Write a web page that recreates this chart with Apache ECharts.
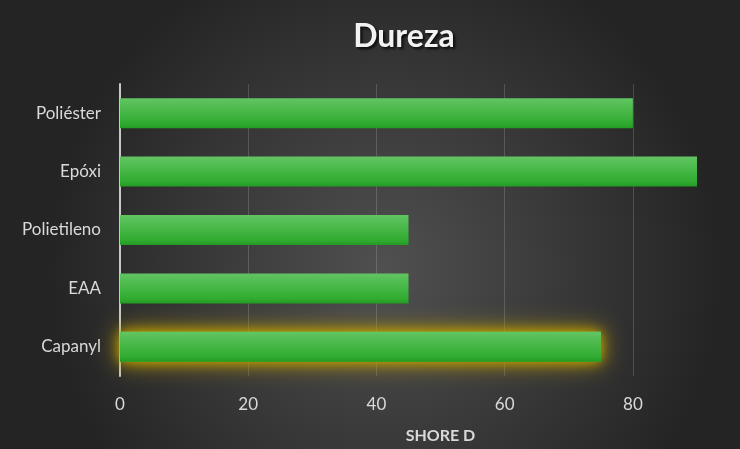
<!DOCTYPE html>
<html>
<head>
<meta charset="utf-8">
<script src="https://cdn.jsdelivr.net/npm/echarts@6/dist/echarts.min.js"></script>
<style>html,body{margin:0;padding:0;background:#333;}#c{width:740px;height:449px;}</style>
</head>
<body>
<div id="c"></div>
<script>
var categories = ['Poliéster', 'Epóxi', 'Polietileno', 'EAA', 'Capanyl'];
var values = [80, 90, 45, 45, 75];
var highlighted = 'Capanyl';
var titleText = 'Dureza';
var axisName = 'SHORE D';

var chart = echarts.init(document.getElementById('c'));
var greenGrad = new echarts.graphic.LinearGradient(0, 0, 0, 1, [
  {offset: 0, color: '#62c562'},
  {offset: 0.85, color: '#2fab2f'},
  {offset: 1, color: '#249a24'}
]);
function glow(blur) {
  return {color: greenGrad, shadowColor: 'rgba(190,160,0,1)', shadowBlur: blur, shadowOffsetX: 0, shadowOffsetY: 0};
}
var data = categories.map(function (c, i) {
  var d = {value: values[i]};
  if (c === highlighted) d.itemStyle = glow(12);
  return d;
});
var glowData = categories.map(function (c, i) {
  return c === highlighted ? {value: values[i], itemStyle: glow(24)} : '-';
});
chart.setOption({
  backgroundColor: new echarts.graphic.RadialGradient(0.52, 0.6, 0.75, [
    {offset: 0, color: '#505050'},
    {offset: 1, color: '#242424'}
  ]),
  textStyle: {fontFamily: 'Lato'},
  title: {
    text: titleText,
    left: 399, top: 16, textAlign: 'center',
    textStyle: {
      color: '#f2f2f2', fontSize: 32, fontWeight: 'bold', fontFamily: 'Lato',
      textShadowColor: 'rgba(0,0,0,0.8)', textShadowBlur: 3, textShadowOffsetX: 2, textShadowOffsetY: 2
    }
  },
  grid: {left: 120, right: 43, top: 84, bottom: 71, containLabel: false},
  xAxis: {
    type: 'value', min: 0, max: 90, interval: 20,
    name: axisName, nameLocation: 'middle', nameGap: 52,
    nameTextStyle: {color: '#d9d9d9', fontSize: 16, fontWeight: 'bold', padding: [0, 0, 0, 64]},
    axisLine: {show: false}, axisTick: {show: false},
    axisLabel: {color: '#d9d9d9', fontSize: 17, margin: 20, showMaxLabel: false},
    splitLine: {show: true, showMaxLine: false, lineStyle: {color: 'rgba(255,255,255,0.16)', width: 1}}
  },
  yAxis: {
    type: 'category', data: categories, inverse: true,
    axisLine: {show: true, lineStyle: {color: '#c8c8c8', width: 2}},
    axisTick: {show: false},
    axisLabel: {color: '#d9d9d9', fontSize: 17, margin: 19}
  },
  series: [{
    type: 'bar', data: glowData, barWidth: 30, barGap: '-100%', silent: true, z: 2
  }, {
    type: 'bar', data: data, barWidth: 30, barGap: '-100%',
    itemStyle: {color: greenGrad, shadowColor: 'rgba(0,0,0,0.6)', shadowBlur: 4, shadowOffsetY: 3, shadowOffsetX: 1},
    z: 3
  }]
});
</script>
</body>
</html>
